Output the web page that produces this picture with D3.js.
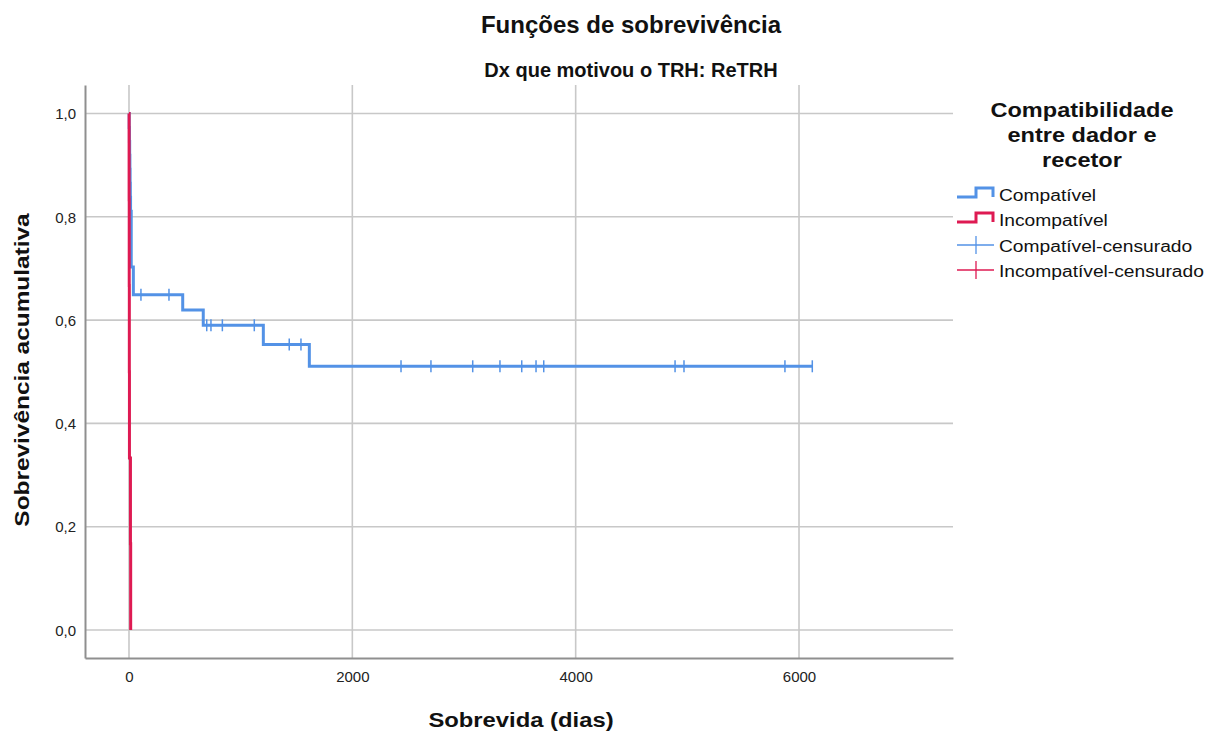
<!DOCTYPE html>
<html>
<head>
<meta charset="utf-8">
<script src="https://cdn.jsdelivr.net/npm/d3@7"></script>
<style>
  html, body { margin: 0; padding: 0; background: #fff; }
  svg { display: block; font-family: "Liberation Sans", Arial, sans-serif; }
</style>
</head>
<body>
<svg id="chart" width="1208" height="733"></svg>
<script>
// Kaplan-Meier estimates (time in days, cumulative survival after each event)
const compatTimes = [0, 2, 4, 6, 8, 10, 12, 14, 20, 39, 481, 665, 1203, 1615, 6119];
const compatSurv  = [1, 0.973, 0.946, 0.919, 0.892, 0.865, 0.838, 0.811, 0.703, 0.649, 0.6195, 0.590, 0.553, 0.5106, 0.5106];
const compatCensored = [107, 358, 696, 734, 836, 1122, 1435, 1540, 2436, 2704, 3078, 3322, 3517, 3645, 3714, 4890, 4970, 5874, 6119];

const incompTimes = [0, 1, 2, 3, 4, 13, 15];
const incompSurv  = [1, 0.833, 0.667, 0.5, 0.333, 0.167, 0];
const incompCensored = [];

const xTicks = [0, 2000, 4000, 6000];
const yTicks = [0, 0.2, 0.4, 0.6, 0.8, 1.0];

const legendTitle = ["Compatibilidade", "entre dador e", "recetor"];
const seriesNames = ["Compatível", "Incompatível", "Compatível-censurado", "Incompatível-censurado"];
const seriesColors = ["#5392e6", "#de1a52"];

const svg = d3.select("#chart");
const W = 1208, H = 733;
const plot = { left: 85, right: 953, top: 85, bottom: 658 };

const x = d3.scaleLinear().domain([-394, 7379]).range([plot.left, plot.right]);
const y = d3.scaleLinear().domain([-0.0542, 1.0552]).range([plot.bottom, plot.top]);

const ptLocale = d3.formatLocale({ decimal: ",", thousands: ".", grouping: [3], currency: ["", " €"] });
const fmtY = ptLocale.format(".1f");

// widen text glyphs horizontally by factor k
function stretch(sel, k) {
  sel.each(function () {
    const w = this.getComputedTextLength();
    d3.select(this).attr("textLength", w * k).attr("lengthAdjust", "spacingAndGlyphs");
  });
}

svg.append("rect").attr("width", W).attr("height", H).attr("fill", "#fff");

// grid
const grid = svg.append("g");
grid.selectAll("line.h").data(yTicks).join("line")
  .attr("x1", plot.left).attr("x2", plot.right)
  .attr("y1", d => y(d)).attr("y2", d => y(d))
  .attr("stroke", "#c8c8c8").attr("stroke-width", 1.6);
grid.selectAll("line.v").data(xTicks).join("line")
  .attr("x1", d => x(d)).attr("x2", d => x(d))
  .attr("y1", plot.top).attr("y2", plot.bottom)
  .attr("stroke", "#c8c8c8").attr("stroke-width", 1.6);

// axes (lines only; labels drawn below)
const xAxis = d3.axisBottom(x).tickValues(xTicks).tickSize(0).tickFormat(d3.format("d"));
const yAxis = d3.axisLeft(y).tickValues(yTicks).tickSize(0).tickFormat(fmtY);

const gx = svg.append("g").attr("transform", `translate(0,${plot.bottom})`).call(xAxis);
gx.select(".domain").attr("stroke", "#8f8f8f").attr("stroke-width", 2);
gx.selectAll("text").attr("font-size", 15).attr("fill", "#222").attr("font-family", "Liberation Sans, Arial, sans-serif")
  .attr("dy", null).attr("y", 24);

const gy = svg.append("g").attr("transform", `translate(${plot.left},0)`).call(yAxis);
gy.select(".domain").attr("stroke", "#8f8f8f").attr("stroke-width", 2);
gy.selectAll("text").attr("font-size", 15).attr("fill", "#222").attr("font-family", "Liberation Sans, Arial, sans-serif")
  .attr("x", -9).attr("dy", "0.35em");

// survival curves
const stepLine = d3.line().x(d => x(d[0])).y(d => y(d[1])).curve(d3.curveStepAfter);

function drawSeries(times, surv, censored, color) {
  const pts = times.map((t, i) => [t, surv[i]]);
  svg.append("path").datum(pts)
    .attr("d", stepLine).attr("fill", "none")
    .attr("stroke", color).attr("stroke-width", 3).attr("stroke-linejoin", "miter");
  const survAt = t => { let s = surv[0]; times.forEach((tt, i) => { if (tt <= t) s = surv[i]; }); return s; };
  svg.append("g").selectAll("line").data(censored).join("line")
    .attr("x1", d => x(d)).attr("x2", d => x(d))
    .attr("y1", d => y(survAt(d)) - 6).attr("y2", d => y(survAt(d)) + 6)
    .attr("stroke", color).attr("stroke-width", 1.5);
}
drawSeries(compatTimes, compatSurv, compatCensored, seriesColors[0]);
drawSeries(incompTimes, incompSurv, incompCensored, seriesColors[1]);

// titles
svg.append("text").attr("x", 631).attr("y", 33).attr("text-anchor", "middle")
  .attr("font-size", 24).attr("font-weight", "bold").attr("fill", "#111")
  .text("Funções de sobrevivência");
svg.append("text").attr("x", 631).attr("y", 77).attr("text-anchor", "middle")
  .attr("font-size", 20).attr("font-weight", "bold").attr("fill", "#111")
  .text("Dx que motivou o TRH: ReTRH");

const xt = svg.append("text").attr("x", 521).attr("y", 727).attr("text-anchor", "middle")
  .attr("font-size", 20).attr("font-weight", "bold").attr("fill", "#111")
  .text("Sobrevida (dias)");
stretch(xt, 1.19);

const yt = svg.append("text").attr("transform", "translate(29,370) rotate(-90)").attr("text-anchor", "middle")
  .attr("font-size", 20).attr("font-weight", "bold").attr("fill", "#111")
  .text("Sobrevivência acumulativa");
stretch(yt, 1.22);

// legend
const lg = svg.append("g");
const lt = lg.selectAll("text.title").data(legendTitle).join("text")
  .attr("x", 1082).attr("y", (d, i) => 117 + i * 25).attr("text-anchor", "middle")
  .attr("font-size", 21).attr("font-weight", "bold").attr("fill", "#111")
  .text(d => d);
stretch(lt, 1.12);

const itemBase = [201, 226, 252, 277];
seriesNames.forEach((name, i) => {
  const b = itemBase[i];
  const color = seriesColors[i % 2];
  if (i < 2) {
    lg.append("path")
      .attr("d", `M957,${b - 4}H976V${b - 13}H993V${b - 4}`)
      .attr("fill", "none").attr("stroke", color).attr("stroke-width", 3);
  } else {
    lg.append("line").attr("x1", 957).attr("x2", 994).attr("y1", b - 7).attr("y2", b - 7)
      .attr("stroke", color).attr("stroke-width", 1.3);
    lg.append("line").attr("x1", 976).attr("x2", 976).attr("y1", b - 16).attr("y2", b + 2)
      .attr("stroke", color).attr("stroke-width", 1.3);
  }
  const t = lg.append("text").attr("x", 999).attr("y", b)
    .attr("font-size", 16).attr("fill", "#111").text(name);
  stretch(t, 1.2);
});
</script>
</body>
</html>
